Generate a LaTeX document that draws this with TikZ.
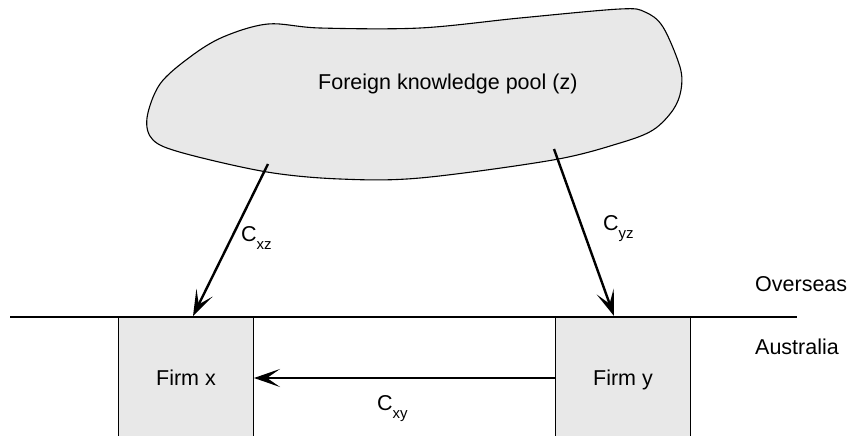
\documentclass[tikz,border=0pt]{standalone}
\usepackage{fontspec}
\setmainfont{Liberation Sans}
\usetikzlibrary{arrows.meta}
\definecolor{boxgray}{HTML}{E8E8E8}
\newcommand{\subtxt}[1]{\raisebox{-8pt}{\fontsize{15}{15}\selectfont #1}}
\tikzset{
  txt/.style={inner sep=0pt, font=\fontsize{21.5}{25}\selectfont},
  firmbox/.style={draw=black, line width=1pt, fill=boxgray, minimum width=135pt, minimum height=121pt, anchor=north west, inner sep=0pt, text height=15pt, text depth=0pt, font=\fontsize{21.5}{25}\selectfont},
  flow/.style={line width=2.4pt, -{Stealth[length=26pt,width=18pt,inset=13pt]}},
  cloud/.style={draw=black, line width=1.1pt, fill=boxgray}
}
\begin{document}
\begin{tikzpicture}[x=1pt,y=-1pt]
\useasboundingbox (0,0) rectangle (847,436);
% knowledge pool blob
\draw[cloud] plot[smooth cycle, tension=0.55] coordinates {
  (147,118) (160,84) (190,57) (223,37) (268,24) (320,28) (420,28)
  (520,18) (620,9) (645,12) (663,27) (680,67) (681,90) (673,110)
  (653,130) (620,143) (553,160) (420,178) (340,179) (267,172)
  (183,153) (153,140)};
\node[txt, anchor=base west] (pool) at (318,90) {Foreign knowledge pool (z)};
% firms
\node[firmbox] (fx) at (118,317) {Firm x};
\node[firmbox] (fy) at (555,317) {Firm y};
% border line
\coordinate (lineL) at (10,317);
\coordinate (lineR) at (797,317);
\draw[line width=2pt] (lineL) -- (lineR);
\node[txt, anchor=base west] (over) at (755,291) {Overseas};
\node[txt, anchor=base west] (aus) at (755,354) {Australia};
% flows
\coordinate (sx) at (268,164);
\coordinate (ex) at (193,316);
\coordinate (sy) at (554,149);
\coordinate (ey) at (614,316);
\draw[flow] (sx) -- (ex);
\draw[flow] (sy) -- (ey);
\draw[flow] (fy.west) -- (fx.east);
\node[txt, anchor=base west] (cxz) at (241,241) {C\subtxt{xz}};
\node[txt, anchor=base west] (cyz) at (603,230) {C\subtxt{yz}};
\node[txt, anchor=base west] (cxy) at (377,410) {C\subtxt{xy}};
\end{tikzpicture}
\end{document}
